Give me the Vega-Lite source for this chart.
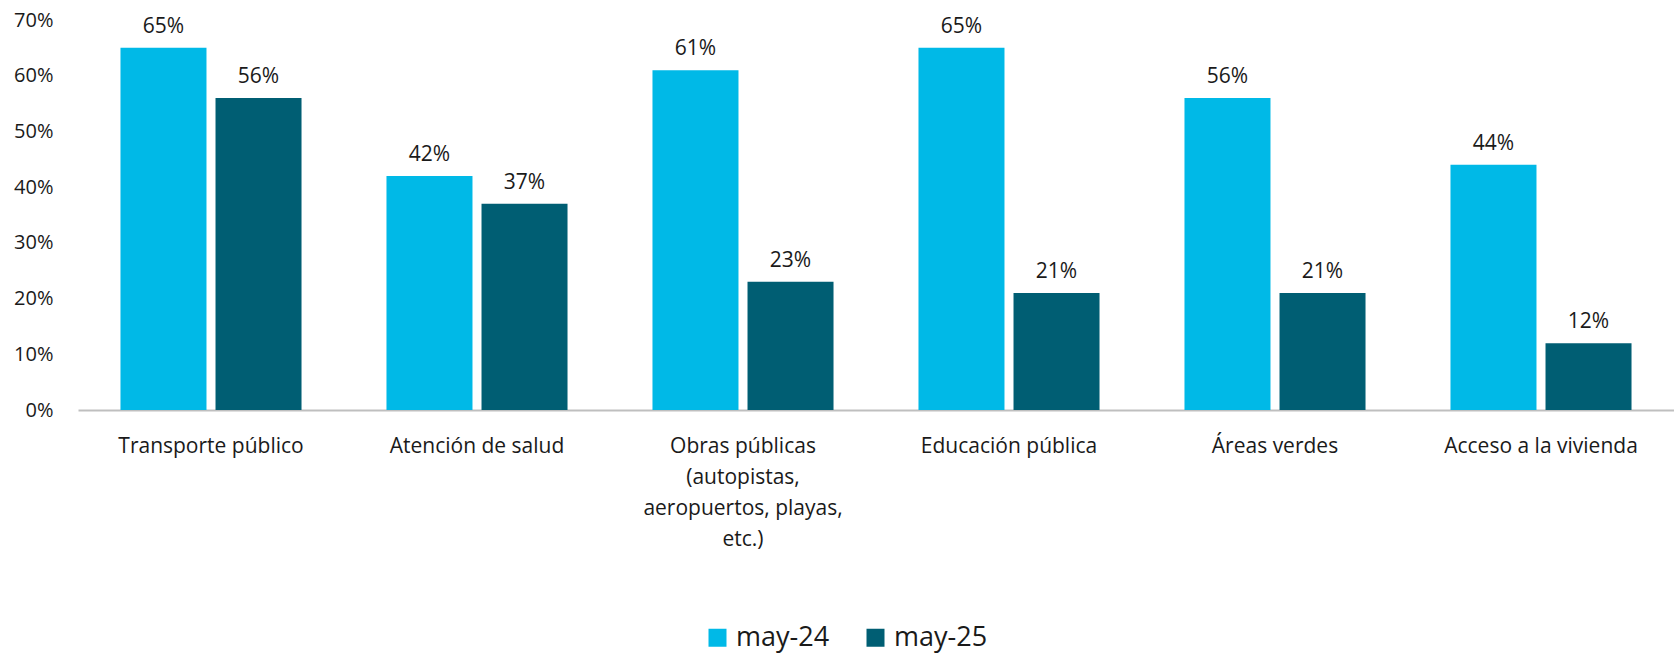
{
  "$schema": "https://vega.github.io/schema/vega-lite/v6.json",
  "autosize": {"type": "none"},
  "padding": {"left": 78, "top": 20, "right": 0, "bottom": 245},
  "width": 1596,
  "height": 390,
  "config": {
    "font": "Open Sans",
    "view": {"stroke": null},
    "axis": {"labelFont": "Open Sans", "labelColor": "#1a1a1a", "grid": false, "ticks": false, "title": null}
  },
  "data": {
    "values": [
      {"categoria": "Transporte público", "periodo": "may-24", "valor": 0.65},
      {"categoria": "Transporte público", "periodo": "may-25", "valor": 0.56},
      {"categoria": "Atención de salud", "periodo": "may-24", "valor": 0.42},
      {"categoria": "Atención de salud", "periodo": "may-25", "valor": 0.37},
      {"categoria": "Obras públicas (autopistas, aeropuertos, playas, etc.)", "periodo": "may-24", "valor": 0.61},
      {"categoria": "Obras públicas (autopistas, aeropuertos, playas, etc.)", "periodo": "may-25", "valor": 0.23},
      {"categoria": "Educación pública", "periodo": "may-24", "valor": 0.65},
      {"categoria": "Educación pública", "periodo": "may-25", "valor": 0.21},
      {"categoria": "Áreas verdes", "periodo": "may-24", "valor": 0.56},
      {"categoria": "Áreas verdes", "periodo": "may-25", "valor": 0.21},
      {"categoria": "Acceso a la vivienda", "periodo": "may-24", "valor": 0.44},
      {"categoria": "Acceso a la vivienda", "periodo": "may-25", "valor": 0.12}
    ]
  },
  "encoding": {
    "x": {
      "field": "categoria", "type": "nominal", "sort": null,
      "scale": {"paddingInner": 0, "paddingOuter": 0},
      "axis": {
        "labelAngle": 0, "labelFontSize": 21, "labelPadding": 25, "labelLineHeight": 31,
        "labelBaseline": "top", "labelLimit": 0,
        "domainColor": "#bfbfbf", "domainWidth": 2,
        "labelExpr": "datum.label == 'Obras públicas (autopistas, aeropuertos, playas, etc.)' ? ['Obras públicas', '(autopistas,', 'aeropuertos, playas,', 'etc.)'] : datum.label"
      }
    },
    "xOffset": {
      "field": "periodo", "type": "nominal",
      "scale": {"paddingInner": 0.095, "paddingOuter": 0.447}
    },
    "y": {
      "field": "valor", "type": "quantitative",
      "scale": {"domain": [0, 0.7]},
      "axis": {"values": [0, 0.1, 0.2, 0.3, 0.4, 0.5, 0.6, 0.7], "format": ".0%", "domain": false, "labelFontSize": 20, "labelPadding": 25}
    }
  },
  "layer": [
    {
      "mark": {"type": "bar"},
      "encoding": {
        "color": {
          "field": "periodo", "type": "nominal",
          "scale": {"domain": ["may-24", "may-25"], "range": ["#00b9e7", "#005e73"]},
          "legend": {
            "title": null, "orient": "none", "direction": "horizontal",
            "legendX": 626, "legendY": 604,
            "symbolType": "square", "symbolSize": 324, "symbolStrokeWidth": 0,
            "labelFontSize": 27, "labelOffset": 5, "columnPadding": 32, "labelColor": "#1a1a1a"
          }
        }
      }
    },
    {
      "mark": {"type": "text", "baseline": "alphabetic", "dy": -15, "fontSize": 21, "color": "#1a1a1a"},
      "encoding": {
        "text": {"field": "valor", "type": "quantitative", "format": ".0%"}
      }
    }
  ]
}
